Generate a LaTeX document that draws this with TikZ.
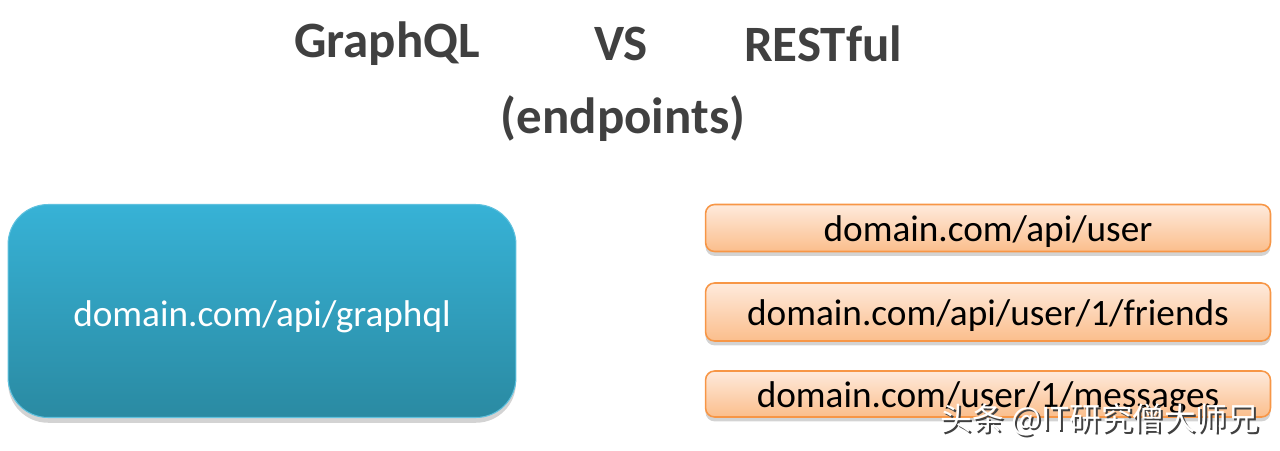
\documentclass[tikz,border=0pt]{standalone}
\usepackage{fontspec}
\setmainfont{Carlito}
\newfontfamily\cjkfont{Noto Sans CJK SC}
\usetikzlibrary{shadows}
\definecolor{titlegray}{HTML}{404040}
\definecolor{qltop}{HTML}{37B2D6}
\definecolor{qlbot}{HTML}{2A8AA2}
\definecolor{resttop}{HTML}{FEEADC}
\definecolor{restbot}{HTML}{FBBE8C}
\definecolor{restline}{HTML}{F79646}

\begin{document}
\begin{tikzpicture}[x=0.02cm, y=-0.02cm, outer sep=0pt,
  title/.style={text=titlegray, font=\bfseries\fontsize{29pt}{34pt}\selectfont},
  qlbox/.style={rounded corners=0.8cm, top color=qltop, bottom color=qlbot,
    draw=qltop!80!white, line width=0.6pt, text=white,
    minimum width=10.16cm, minimum height=4.26cm,
    text height=0.8cm, text depth=0.2cm,
    drop shadow={shadow xshift=0pt, shadow yshift=-3pt, opacity=0.35},
    font=\fontsize{21.2pt}{25pt}\selectfont},
  restbox/.style={rounded corners=0.18cm, top color=resttop, bottom color=restbot,
    draw=restline, line width=0.9pt, text=black,
    minimum width=11.3cm, inner sep=0pt,
    text height=0.72cm, text depth=0.2cm,
    drop shadow={shadow xshift=0pt, shadow yshift=-2.5pt, opacity=0.35},
    font=\fontsize{21.2pt}{25pt}\selectfont},
  wmark/.style={font=\cjkfont\fontsize{18pt}{22pt}\selectfont}]

\useasboundingbox (0,0) rectangle (1280,450);

% title
\node[title] at (387, 44) (GRAPHQL) {GraphQL};
\node[title] at (621, 44) (VS) {VS};
\node[title] at (823, 44) (RESTFUL) {RESTful};
\node[title] at (623, 119) (ENDPOINTS) {(endpoints)};

% graphql endpoint
\node[qlbox] at (262, 311) (QL_EP) {domain.com/api/graphql};

% rest endpoints
\node[restbox, minimum height=0.94cm] at (988, 228) (REST_USER) {domain.com/api/user};
\node[restbox, minimum height=1.16cm] at (988, 312) (REST_FRIENDS) {domain.com/api/user/1/friends};
\node[restbox, minimum height=0.92cm] at (988, 394) (REST_MSG) {domain.com/user/1/messages};

% watermark
\node[wmark, text=black!75, anchor=east] at (1267, 422) (MARK_SH) {头条 @IT研究僧大师兄};
\node[wmark, text=white, anchor=east] at (1265, 420) (MARK) {头条 @IT研究僧大师兄};
\end{tikzpicture}
\end{document}
